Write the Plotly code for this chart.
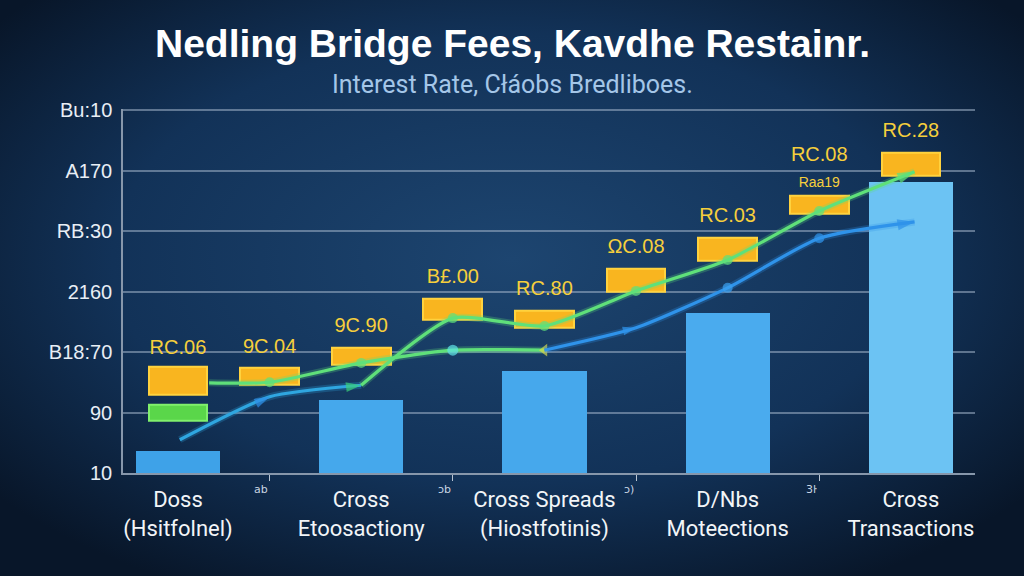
import base64
import plotly.graph_objects as go

# ---------------- data ----------------
categories = [0, 1, 2, 3, 4]
category_labels = ["Doss<br>(Hsitfolnel)", "Cross<br>Etoosactiony", "Cross Spreads<br>(Hiostfotinis)",
                   "D/Nbs<br>Moteections", "Cross<br>Transactions"]
bar_values = [0.36, 1.21, 1.69, 2.64, 4.81]

minor_x = [0.5, 1.5, 2.5, 3.5]
minor_labels = ["ab", "ɔb", "ↄ)", "3ŀ"]

y_tick_vals = [0, 1, 2, 3, 4, 5, 6]
y_tick_text = ["10", "90", "B18:70", "2160", "RB:30", "A170", "Bu:10"]

box_x = [0, 0.5, 1, 1.5, 2, 2.5, 3, 3.5, 4]
box_low = [1.29, 1.45, 1.79, 2.53, 2.40, 2.99, 3.50, 4.28, 4.91]
box_high = [1.75, 1.74, 2.07, 2.88, 2.68, 3.37, 3.88, 4.58, 5.29]
box_labels = ["RC.06", "9C.04", "9C.90", "B£.00", "RC.80", "ΩC.08", "RC.03",
              "RC.08<br><span style='font-size:14px'>Raa19</span>", "RC.28"]

green_box_x = [0]
green_box_low = [0.86]
green_box_high = [1.12]

line_a_x = [0.17, 0.5, 1.0, 1.5, 2.0, 2.5, 3.0, 3.5, 4.02]
line_a_values = [1.49, 1.50, 1.82, 2.03, 2.03, 2.40, 3.06, 3.88, 4.15]
line_b_x = [0.01, 0.5, 1.0, 1.5, 2.0, 2.5, 3.0, 3.5, 4.02]
line_b_values = [0.55, 1.26, 1.45, 2.56, 2.43, 3.01, 3.52, 4.33, 4.98]

title_text = "Nedling Bridge Fees, Kavdhe Restainr."
subtitle_text = "Interest Rate, Cłáobs Bredliboes."

# ---------------- styles ----------------
GREEN = "#5fe07a"
BLUE = "#2f93ea"
ORANGE = "#f9b51f"
LABEL_YELLOW = "#f6cf3c"
bar_colors = ["#3ea2e8", "#45a8ec", "#46a8ec", "#4aabee", "#6cc3f3"]
label_pad = [12, 14, 16, 16, 16, 16, 16, 4, 16]

Y_TOP = 6.02
PX_PER_UNIT = 60.5
top_px = 473 - Y_TOP * PX_PER_UNIT

fig = go.Figure()

fig.add_trace(go.Bar(x=categories, y=bar_values, width=0.46,
                     marker=dict(color=bar_colors, line=dict(width=0)),
                     hoverinfo="skip"))

box_heights = [h - l for h, l in zip(box_high, box_low)]
fig.add_trace(go.Bar(x=box_x, y=box_heights, base=box_low, width=0.32,
                     marker=dict(color=ORANGE, line=dict(color="#ffd23e", width=2)),
                     hoverinfo="skip"))
green_heights = [h - l for h, l in zip(green_box_high, green_box_low)]
fig.add_trace(go.Bar(x=green_box_x, y=green_heights, base=green_box_low, width=0.32,
                     marker=dict(color="#5ad64a", line=dict(color="#80f06c", width=2)),
                     hoverinfo="skip"))


def seg(xs, ys, i0, i1, color, symbols, sizes, mcolors):
    fig.add_trace(go.Scatter(
        x=xs[i0:i1 + 1], y=ys[i0:i1 + 1], mode="lines",
        line=dict(color=color, width=7, shape="spline", smoothing=0.6),
        opacity=0.25, hoverinfo="skip", cliponaxis=False))
    fig.add_trace(go.Scatter(
        x=xs[i0:i1 + 1], y=ys[i0:i1 + 1], mode="lines+markers",
        line=dict(color=color, width=3.2, shape="spline", smoothing=0.6),
        marker=dict(symbol=symbols, size=sizes, color=mcolors, angleref="previous",
                    line=dict(width=0)),
        hoverinfo="skip", cliponaxis=False))


seg(line_a_x, line_a_values, 0, 4, GREEN,
    ["circle", "circle", "circle", "circle", "triangle-down"],
    [0, 10, 10, 11, 11], [GREEN, GREEN, GREEN, "#5ee3e6", "#d8d84a"])
seg(line_a_x, line_a_values, 4, 8, BLUE,
    ["circle", "arrow", "circle", "circle", "arrow"],
    [0, 14, 10, 10, 18], [BLUE, BLUE, "#3aa0f0", BLUE, BLUE])
seg(line_b_x, line_b_values, 0, 2, "#2fa6e0",
    ["circle", "arrow", "arrow"],
    [10, 16, 16], ["#c8f6ff", "#2f8ee8", "#3ad07a"])
seg(line_b_x, line_b_values, 2, 8, GREEN,
    ["triangle-down", "circle", "circle", "circle", "circle", "circle", "arrow"],
    [11, 10, 10, 10, 10, 10, 18],
    ["#d8d84a", GREEN, GREEN, GREEN, GREEN, GREEN, GREEN])

fig.add_trace(go.Scatter(x=box_x, y=box_high, mode="markers+text", text=box_labels,
                         textposition="top center",
                         marker=dict(size=label_pad, opacity=0),
                         textfont=dict(family="Liberation Sans", size=20, color=LABEL_YELLOW),
                         hoverinfo="skip", cliponaxis=False))

svg = ('<svg xmlns="http://www.w3.org/2000/svg" width="1024" height="576">'
       '<defs><radialGradient id="g" cx="50%" cy="45%" r="65%">'
       '<stop offset="0%" stop-color="#1d4570"/><stop offset="60%" stop-color="#123258"/>'
       '<stop offset="100%" stop-color="#081629"/></radialGradient></defs>'
       '<rect width="1024" height="576" fill="url(#g)"/></svg>')
bg_uri = "data:image/svg+xml;base64," + base64.b64encode(svg.encode()).decode()

annotations = [
    dict(text="<b>" + title_text + "</b>", x=0.5, y=1 - 44 / 576, xref="paper", yref="paper",
         showarrow=False, font=dict(family="Liberation Sans", size=39, color="#ffffff"),
         xanchor="center", yanchor="middle"),
    dict(text=subtitle_text, x=0.5, y=1 - 85 / 576, xref="paper", yref="paper",
         showarrow=False, font=dict(family="Roboto", size=25, color="#a4c6e8"),
         xanchor="center", yanchor="middle"),
]
for mx, ml in zip(minor_x, minor_labels):
    annotations.append(dict(text=ml, x=mx, y=1 - 489 / 576, xref="x", yref="paper",
                            showarrow=False, xanchor="right", yanchor="middle",
                            font=dict(family="DejaVu Sans", size=11, color="#c8d4e2")))

fig.update_layout(
    width=1024, height=576, autosize=False,
    margin=dict(l=0, r=0, t=0, b=0, pad=0, autoexpand=False),
    paper_bgcolor="#0f2845", plot_bgcolor="rgba(0,0,0,0)",
    barmode="overlay", showlegend=False, bargap=0,
    images=[dict(source=bg_uri, xref="paper", yref="paper", x=0, y=1, sizex=1, sizey=1,
                 sizing="stretch", layer="below")],
    annotations=annotations,
    xaxis=dict(domain=[123 / 1024, 975 / 1024], range=[-0.3, 4.35], automargin=False,
               tickmode="array", tickvals=categories, ticktext=category_labels,
               ticks="", showgrid=False, zeroline=False,
               showline=True, linecolor="#8797ab", linewidth=1.5,
               tickfont=dict(family="Roboto", size=22, color="#f2f5f8"),
               ticklabelstandoff=6,
               minor=dict(tickmode="array", tickvals=minor_x, ticks="outside",
                          ticklen=6, tickcolor="#b8c4d2", tickwidth=1, showgrid=False)),
    yaxis=dict(domain=[1 - 473 / 576, 1 - top_px / 576], range=[0, Y_TOP], automargin=False,
               tickmode="array", tickvals=y_tick_vals, ticktext=y_tick_text,
               ticks="", showgrid=True, gridcolor="rgba(160,178,200,0.55)", gridwidth=1.5,
               zeroline=False, showline=True, linecolor="#8797ab", linewidth=1.5,
               tickfont=dict(family="Liberation Sans", size=20, color="#e8eef5"),
               ticklabelstandoff=5),
)

fig.write_html("out.html", config={"displayModeBar": False},
               post_script="document.body.style.margin='0';document.body.style.overflow='hidden';")
